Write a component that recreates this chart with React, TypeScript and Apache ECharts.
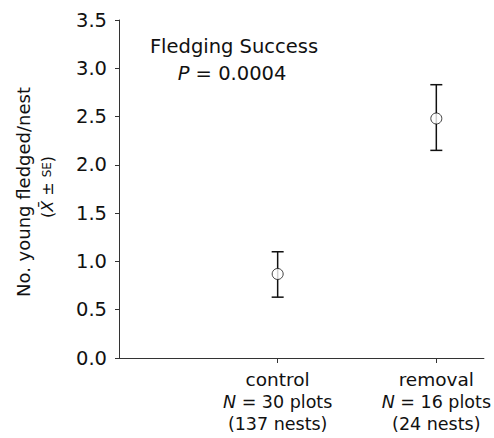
import React, { useEffect, useRef } from "react";
import * as echarts from "echarts";

const groups = ["control", "removal"];
const groupPos = [1, 2];
const nLabels = ["30 plots", "16 plots"];
const nestLabels = ["(137 nests)", "(24 nests)"];
const means = [0.87, 2.48];
const upper = [1.1, 2.83];
const lower = [0.63, 2.15];
const yTicks = [0, 0.5, 1, 1.5, 2, 2.5, 3, 3.5];

const FONT = "DejaVu Sans";
const INK = "#111";

export default function App() {
  const ref = useRef<HTMLDivElement>(null);
  useEffect(() => {
    if (!ref.current) return;
    const chart = echarts.init(ref.current, null, { renderer: "svg" });
    const errData = groupPos.map((x, i) => [x, lower[i], upper[i]]);
    const ptData = groupPos.map((x, i) => [x, means[i]]);
    chart.setOption({
      animation: false,
      grid: { left: 119, right: 2, top: 20, bottom: 80 },
      xAxis: {
        type: "value",
        min: 0,
        max: 2.3,
        interval: 1,
        splitLine: { show: false },
        axisLine: { lineStyle: { color: "#333", width: 1 } },
        axisTick: { customValues: groupPos, length: 5, lineStyle: { color: "#333" } },
        axisLabel: {
          customValues: groupPos,
          margin: 10,
          formatter: (v: number) => {
            const i = groupPos.indexOf(v);
            if (i < 0) return "";
            return `{a|${groups[i]}}\n{i|N}{b| = ${nLabels[i]}}\n{b|${nestLabels[i]}}`;
          },
          rich: {
            a: { fontFamily: FONT, fontSize: 18.5, color: INK, lineHeight: 23 },
            b: { fontFamily: FONT, fontSize: 17.5, color: INK, lineHeight: 22 },
            i: { fontFamily: FONT, fontSize: 17.5, fontStyle: "italic", color: INK, lineHeight: 22 },
          },
        },
      },
      yAxis: {
        type: "value",
        min: yTicks[0],
        max: yTicks[yTicks.length - 1],
        interval: 0.5,
        splitLine: { show: false },
        axisLine: { show: true, lineStyle: { color: "#333", width: 1 } },
        axisTick: { show: true, length: 4, lineStyle: { color: "#333" } },
        axisLabel: {
          margin: 12,
          fontFamily: FONT,
          fontSize: 19.5,
          color: INK,
          formatter: (v: number) => v.toFixed(1),
        },
      },
      graphic: [
        {
          type: "text",
          x: 234,
          y: 46,
          style: {
            text: "Fledging Success",
            fontFamily: FONT,
            fontSize: 19.5,
            fill: INK,
            textAlign: "center",
            textVerticalAlign: "middle",
          },
        },
        {
          type: "text",
          x: 232,
          y: 73,
          style: {
            text: "{i|P} = 0.0004",
            fontFamily: FONT,
            fontSize: 19.5,
            fill: INK,
            textAlign: "center",
            textVerticalAlign: "middle",
            rich: {
              i: { fontFamily: FONT, fontSize: 19.5, fontStyle: "italic", color: INK },
            },
          },
        },
        {
          type: "text",
          x: 23,
          y: 192,
          rotation: Math.PI / 2,
          style: {
            text: "No. young fledged/nest",
            fontFamily: FONT,
            fontSize: 18,
            fill: INK,
            textAlign: "center",
            textVerticalAlign: "middle",
          },
        },
        {
          type: "text",
          x: 47,
          y: 187,
          rotation: Math.PI / 2,
          style: {
            text: "({i|X\u0304} ± {s|SE})",
            fontFamily: FONT,
            fontSize: 16,
            fill: INK,
            textAlign: "center",
            textVerticalAlign: "middle",
            rich: {
              i: { fontFamily: FONT, fontSize: 16, fontStyle: "italic", color: INK },
              s: { fontFamily: FONT, fontSize: 12, color: INK },
            },
          },
        },
      ],
      series: [
        {
          type: "custom",
          data: errData,
          z: 2,
          renderItem: (params: any, api: any) => {
            const x = api.value(0);
            const lo = api.coord([x, api.value(1)]);
            const hi = api.coord([x, api.value(2)]);
            const hw = 6;
            const style = { stroke: INK, lineWidth: 1.5 };
            return {
              type: "group",
              children: [
                { type: "line", shape: { x1: lo[0], y1: lo[1], x2: hi[0], y2: hi[1] }, style },
                { type: "line", shape: { x1: lo[0] - hw, y1: lo[1], x2: lo[0] + hw, y2: lo[1] }, style },
                { type: "line", shape: { x1: hi[0] - hw, y1: hi[1], x2: hi[0] + hw, y2: hi[1] }, style },
              ],
            };
          },
        },
        {
          type: "scatter",
          data: ptData,
          z: 3,
          symbol: "circle",
          symbolSize: 11,
          itemStyle: { color: "#fff", borderColor: INK, borderWidth: 1 },
        },
      ],
    });
    return () => chart.dispose();
  }, []);
  return <div ref={ref} style={{ width: 494, height: 438, position: "absolute", left: 0, top: 0 }} />;
}
